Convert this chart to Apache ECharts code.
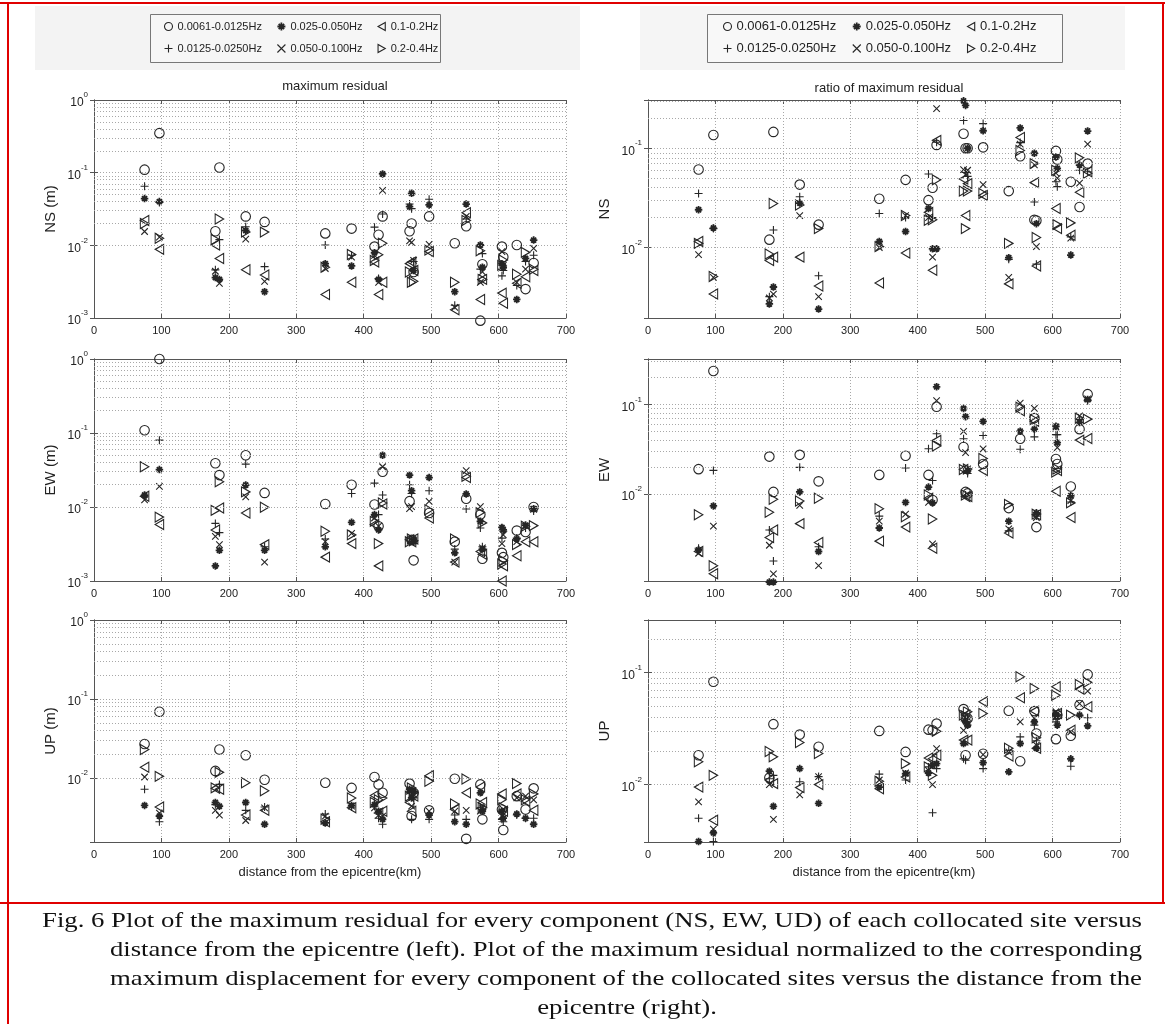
<!DOCTYPE html>
<html><head><meta charset="utf-8">
<script src="https://cdn.jsdelivr.net/npm/echarts@6/dist/echarts.min.js"></script>
<style>html,body{margin:0;padding:0;background:#fff}#c{width:1165px;height:1024px}</style>
</head><body><div id="c"></div>
<script>
// ---------------- DATA ----------------
const distance = [75, 97, 180, 186, 225, 253, 343, 382, 416, 422, 428, 468, 471, 474, 497, 535, 552, 573, 576, 605, 607, 627, 640, 652];
const bandNames = ['0.0061-0.0125Hz', '0.0125-0.0250Hz', '0.025-0.050Hz', '0.050-0.100Hz', '0.1-0.2Hz', '0.2-0.4Hz'];
const xTicks = [0, 100, 200, 300, 400, 500, 600, 700];

// maximum residual, NS (m)
const resNS_o    = [0.11, 0.35, 0.0156, 0.118, 0.025, 0.021, 0.0146, 0.017, 0.0096, 0.014, 0.025, 0.0156, 0.02, 0.0043, 0.025, 0.0107, 0.0183, 0.00092, 0.0055, 0.0096, 0.0069, 0.0101, 0.0025, 0.0057];
const resNS_plus = [0.065, 0.039, 0.0046, 0.012, 0.018, 0.0051, 0.0101, 0.0073, 0.0178, 0.0035, 0.027, 0.037, 0.032, 0.006, 0.043, 0.0015, 0.023, 0.0047, 0.0077, 0.0038, 0.0045, 0.0028, 0.006, 0.0073];
const resNS_star = [0.044, 0.04, 0.0036, 0.0034, 0.016, 0.0023, 0.0056, 0.0052, 0.0079, 0.0034, 0.096, 0.034, 0.052, 0.0045, 0.036, 0.0023, 0.037, 0.0101, 0.005, 0.0056, 0.005, 0.0018, 0.0066, 0.0118];
const resNS_x    = [0.0155, 0.013, 0.0044, 0.003, 0.0122, 0.0032, 0.0048, 0.0069, 0.0073, 0.0031, 0.057, 0.0115, 0.011, 0.0062, 0.0103, 0.0014, 0.025, 0.0031, 0.0043, 0.0082, 0.0053, 0.0031, 0.0047, 0.0091];
const resNS_lt   = [0.022, 0.0088, 0.0101, 0.0066, 0.0046, 0.0039, 0.0021, 0.0031, 0.0059, 0.0021, 0.0031, 0.0056, 0.0059, 0.0045, 0.0082, 0.0013, 0.028, 0.0018, 0.0034, 0.0022, 0.0016, 0.003, 0.0037, 0.0045];
const resNS_rt   = [0.02, 0.0125, 0.012, 0.023, 0.0153, 0.0152, 0.005, 0.0075, 0.0062, 0.0074, 0.0107, 0.0043, 0.0031, 0.0032, 0.0086, 0.0031, 0.022, 0.0084, 0.0034, 0.0053, 0.0063, 0.004, 0.008, 0.0047];

// maximum residual, EW (m)
const resEW_o    = [0.109, 1.0, 0.039, 0.027, 0.05, 0.0155, 0.011, 0.02, 0.0108, 0.0055, 0.03, 0.012, 0.0036, 0.0019, 0.0083, 0.0034, 0.0129, 0.0079, 0.002, 0.0024, 0.0021, 0.0048, 0.0046, 0.01];
const resEW_plus = [0.014, 0.08, 0.006, 0.0045, 0.038, 0.0029, 0.0037, 0.0152, 0.021, 0.0079, 0.0145, 0.02, 0.0152, 0.0034, 0.0166, 0.0027, 0.0094, 0.0052, 0.0029, 0.0038, 0.0047, 0.0038, 0.0052, 0.0088];
const resEW_star = [0.0145, 0.032, 0.0016, 0.0026, 0.0198, 0.0026, 0.0029, 0.0062, 0.0079, 0.0049, 0.05, 0.027, 0.0166, 0.0034, 0.025, 0.0024, 0.015, 0.0064, 0.0027, 0.0053, 0.0049, 0.0037, 0.0057, 0.0095];
const resEW_x    = [0.0125, 0.019, 0.004, 0.0031, 0.0137, 0.0018, 0.0034, 0.0044, 0.0071, 0.0055, 0.035, 0.0095, 0.0101, 0.0035, 0.0119, 0.0018, 0.031, 0.0101, 0.0028, 0.0032, 0.0042, 0.0034, 0.0055, 0.0093];
const resEW_lt   = [0.014, 0.0058, 0.0049, 0.0097, 0.0083, 0.0031, 0.0021, 0.0032, 0.0058, 0.0016, 0.011, 0.0036, 0.0034, 0.0037, 0.0071, 0.0018, 0.025, 0.0025, 0.0023, 0.001, 0.0016, 0.0022, 0.0034, 0.0034];
const resEW_rt   = [0.035, 0.0073, 0.009, 0.022, 0.016, 0.0099, 0.0047, 0.0042, 0.0064, 0.0032, 0.0113, 0.0034, 0.0037, 0.0035, 0.0092, 0.0037, 0.026, 0.0084, 0.0061, 0.0017, 0.0019, 0.0031, 0.0055, 0.0056];

// maximum residual, UP (m)
const resUP_o    = [0.027, 0.069, 0.0123, 0.023, 0.0194, 0.0095, 0.0087, 0.0075, 0.0103, 0.0083, 0.0065, 0.0085, 0.0033, 0.0065, 0.0039, 0.0098, 0.0017, 0.0083, 0.003, 0.004, 0.0022, 0.0059, 0.004, 0.0074];
const resUP_plus = [0.0072, 0.0028, 0.0046, 0.0083, 0.0039, 0.0043, 0.0035, 0.0043, 0.0044, 0.0031, 0.0026, 0.0065, 0.003, 0.0056, 0.003, 0.0034, 0.003, 0.0042, 0.004, 0.003, 0.0028, 0.0034, 0.0031, 0.0031];
const resUP_star = [0.0045, 0.0033, 0.0049, 0.0044, 0.0049, 0.0026, 0.0027, 0.0045, 0.0046, 0.0038, 0.003, 0.0072, 0.0056, 0.0068, 0.0034, 0.0028, 0.0026, 0.0065, 0.0038, 0.0038, 0.0031, 0.0035, 0.0031, 0.0026];
const resUP_x    = [0.0103, 0.0036, 0.0039, 0.0034, 0.0029, 0.0042, 0.0033, 0.0044, 0.0042, 0.0034, 0.0033, 0.0068, 0.0044, 0.0062, 0.0038, 0.0038, 0.0039, 0.0038, 0.0042, 0.0033, 0.004, 0.0056, 0.0059, 0.0053];
const resUP_lt   = [0.0137, 0.0043, 0.0074, 0.0072, 0.0034, 0.0039, 0.0028, 0.0042, 0.006, 0.0036, 0.0038, 0.0049, 0.0038, 0.0059, 0.0107, 0.004, 0.0065, 0.0077, 0.0049, 0.0063, 0.0038, 0.0063, 0.0051, 0.0039];
const resUP_rt   = [0.023, 0.0105, 0.0075, 0.0118, 0.0087, 0.0069, 0.003, 0.0056, 0.0049, 0.0053, 0.0056, 0.0059, 0.0075, 0.0065, 0.0091, 0.0047, 0.0097, 0.0047, 0.0042, 0.0053, 0.0042, 0.0085, 0.0053, 0.0063];

// ratio of maximum residual, NS
const ratNS_o    = [0.061, 0.136, 0.012, 0.146, 0.043, 0.017, 0.031, 0.048, 0.03, 0.04, 0.108, 0.14, 0.1, 0.1, 0.102, 0.037, 0.083, 0.019, 0.0187, 0.094, 0.077, 0.046, 0.0256, 0.07];
const ratNS_plus = [0.035, 0.0155, 0.0032, 0.015, 0.0325, 0.0052, 0.022, 0.02, 0.055, 0.02, 0.115, 0.19, 0.057, 0.052, 0.177, 0.0076, 0.114, 0.0287, 0.0068, 0.046, 0.041, 0.0128, 0.06, 0.058];
const ratNS_star = [0.024, 0.0157, 0.0027, 0.004, 0.028, 0.0024, 0.0115, 0.0145, 0.0247, 0.0097, 0.0097, 0.3, 0.27, 0.1, 0.15, 0.0079, 0.16, 0.089, 0.0174, 0.0816, 0.0626, 0.0084, 0.0676, 0.149];
const ratNS_x    = [0.0085, 0.005, 0.0031, 0.0034, 0.021, 0.0032, 0.01, 0.021, 0.02, 0.008, 0.25, 0.061, 0.054, 0.06, 0.043, 0.005, 0.11, 0.068, 0.0102, 0.056, 0.05, 0.0124, 0.0446, 0.11];
const ratNS_lt   = [0.0115, 0.0034, 0.0074, 0.008, 0.008, 0.0041, 0.0044, 0.0088, 0.0226, 0.0059, 0.12, 0.049, 0.021, 0.044, 0.0335, 0.0043, 0.128, 0.045, 0.0065, 0.0247, 0.0155, 0.0133, 0.036, 0.058];
const ratNS_rt   = [0.011, 0.0051, 0.0086, 0.0277, 0.0268, 0.0155, 0.0102, 0.021, 0.0188, 0.019, 0.048, 0.037, 0.0155, 0.037, 0.035, 0.011, 0.095, 0.07, 0.0126, 0.06, 0.017, 0.0177, 0.08, 0.056];

// ratio of maximum residual, EW
const ratEW_o    = [0.019, 0.235, 0.0262, 0.0106, 0.0274, 0.0139, 0.0164, 0.0268, 0.0164, 0.0086, 0.094, 0.0335, 0.0106, 0.0102, 0.0217, 0.007, 0.0414, 0.0703, 0.0043, 0.0246, 0.0217, 0.0122, 0.053, 0.13];
const ratEW_plus = [0.0025, 0.0184, 0.004, 0.0018, 0.0199, 0.0026, 0.0057, 0.0196, 0.032, 0.0142, 0.047, 0.0415, 0.0098, 0.017, 0.045, 0.0039, 0.0316, 0.0435, 0.0057, 0.046, 0.046, 0.0082, 0.068, 0.11];
const ratEW_star = [0.0024, 0.0074, 0.00105, 0.00105, 0.0106, 0.0023, 0.0042, 0.0081, 0.012, 0.008, 0.157, 0.09, 0.073, 0.0183, 0.0646, 0.005, 0.0503, 0.053, 0.0062, 0.057, 0.0375, 0.0096, 0.063, 0.113];
const ratEW_x    = [0.0022, 0.0044, 0.0027, 0.0013, 0.0075, 0.0016, 0.005, 0.006, 0.0081, 0.0028, 0.11, 0.05, 0.029, 0.0191, 0.032, 0.0041, 0.103, 0.09, 0.0055, 0.056, 0.033, 0.0085, 0.0745, 0.115];
const ratEW_lt   = [0.0023, 0.0013, 0.0033, 0.004, 0.0047, 0.0029, 0.003, 0.0043, 0.009, 0.0025, 0.0397, 0.0188, 0.0094, 0.0094, 0.0183, 0.0037, 0.085, 0.065, 0.0059, 0.0108, 0.0183, 0.0055, 0.04, 0.0417];
const ratEW_rt   = [0.0059, 0.0016, 0.0063, 0.0088, 0.0084, 0.009, 0.0069, 0.0056, 0.0098, 0.0053, 0.0344, 0.0188, 0.0098, 0.0191, 0.025, 0.0077, 0.093, 0.068, 0.006, 0.0176, 0.0191, 0.008, 0.07, 0.0685];

// ratio of maximum residual, UP
const ratUP_o    = [0.0183, 0.083, 0.0115, 0.0347, 0.028, 0.0218, 0.0302, 0.0196, 0.031, 0.0306, 0.0351, 0.0473, 0.0183, 0.039, 0.0189, 0.0457, 0.0162, 0.0454, 0.0286, 0.0255, 0.0418, 0.0273, 0.0514, 0.0966];
const ratUP_plus = [0.005, 0.0031, 0.0113, 0.0121, 0.0106, 0.0118, 0.0124, 0.011, 0.0144, 0.0056, 0.0139, 0.017, 0.0165, 0.04, 0.0139, 0.0203, 0.0267, 0.034, 0.0247, 0.0364, 0.039, 0.0146, 0.041, 0.0396];
const ratUP_star = [0.0031, 0.0037, 0.0132, 0.0064, 0.0139, 0.0068, 0.0095, 0.0125, 0.0127, 0.0149, 0.0154, 0.0233, 0.0364, 0.034, 0.0157, 0.013, 0.0233, 0.0364, 0.0211, 0.0418, 0.034, 0.017, 0.0418, 0.0335];
const ratUP_x    = [0.007, 0.004, 0.01, 0.0049, 0.0081, 0.0118, 0.011, 0.0127, 0.0134, 0.01, 0.021, 0.0306, 0.038, 0.035, 0.0185, 0.0196, 0.0364, 0.039, 0.0225, 0.0448, 0.0432, 0.0296, 0.053, 0.0685];
const ratUP_lt   = [0.0095, 0.0048, 0.011, 0.0102, 0.0094, 0.01, 0.0092, 0.0117, 0.0173, 0.017, 0.0183, 0.025, 0.042, 0.025, 0.055, 0.018, 0.0597, 0.0454, 0.0211, 0.075, 0.0432, 0.0306, 0.0714, 0.0496];
const ratUP_rt   = [0.016, 0.0121, 0.0198, 0.0177, 0.0238, 0.019, 0.0107, 0.0154, 0.0144, 0.0121, 0.03, 0.0418, 0.041, 0.0448, 0.0432, 0.0211, 0.092, 0.0724, 0.0262, 0.063, 0.0418, 0.0418, 0.0786, 0.082];

const captionLines = [
  'Fig. 6 Plot of the maximum residual for every component (NS, EW, UD) of each collocated site versus',
  'distance from the epicentre (left). Plot of the maximum residual normalized to the corresponding',
  'maximum displacement for every component of the collocated sites versus the distance from the',
  'epicentre (right).'
];

// ---------------- STYLE / LAYOUT ----------------
const SANS = '"Liberation Sans", Arial, Helvetica, sans-serif';
const SERIF = '"Liberation Serif", "Times New Roman", serif';
const INK = '#262626';
const GRIDC = '#a8a8a8';
const markerDefs = [
  { symbol: 'circle', size: 9.5, bw: 1.1 },
  { symbol: 'path://M5,0L5,10M0,5L10,5', size: 8, bw: 1.1 },
  { symbol: 'path://M5,0L5,10M0,5L10,5M1.6,1.6L8.4,8.4M8.4,1.6L1.6,8.4', size: 7.5, bw: 1.8 },
  { symbol: 'path://M0,0L10,10M10,0L0,10', size: 6.5, bw: 1.1 },
  { symbol: 'path://M0,5L9,0L9,10Z', size: [8.5, 10], bw: 1.1 },
  { symbol: 'path://M9,5L0,0L0,10Z', size: [8.5, 10], bw: 1.1 }
];

const LX = 94, RX = 648, PW = 472;
const rows = [{ top: 100, h: 218 }, { top: 359, h: 222 }, { top: 620, h: 222 }];
const panels = [
  { left: LX, row: 0, ymin: 0.001, ymax: 1, yname: 'NS (m)', vals: [resNS_o, resNS_plus, resNS_star, resNS_x, resNS_lt, resNS_rt] },
  { left: LX, row: 1, ymin: 0.001, ymax: 1, yname: 'EW (m)', vals: [resEW_o, resEW_plus, resEW_star, resEW_x, resEW_lt, resEW_rt] },
  { left: LX, row: 2, ymin: 0.00155, ymax: 1, yname: 'UP (m)', vals: [resUP_o, resUP_plus, resUP_star, resUP_x, resUP_lt, resUP_rt], xname: 'distance from the epicentre(km)' },
  { left: RX, row: 0, ymin: 0.00195, ymax: 0.306, yname: 'NS', vals: [ratNS_o, ratNS_plus, ratNS_star, ratNS_x, ratNS_lt, ratNS_rt] },
  { left: RX, row: 1, ymin: 0.00108, ymax: 0.32, yname: 'EW', vals: [ratEW_o, ratEW_plus, ratEW_star, ratEW_x, ratEW_lt, ratEW_rt] },
  { left: RX, row: 2, ymin: 0.00307, ymax: 0.296, yname: 'UP', vals: [ratUP_o, ratUP_plus, ratUP_star, ratUP_x, ratUP_lt, ratUP_rt], xname: 'distance from the epicentre(km)' }
];

function minorLines(min, max) {
  const out = [];
  for (let e = -4; e <= 0; e++) for (let m = 2; m <= 9; m++) {
    const v = m * Math.pow(10, e);
    if (v > min * 1.0001 && v < max * 0.9999) out.push({ yAxis: v });
  }
  return out;
}
function logLabel(v) {
  const e = Math.log10(v), r = Math.round(e);
  if (Math.abs(e - r) > 1e-6) return '';
  return '{b|10}{s|' + r + '}';
}

const grid = [], xAxis = [], yAxis = [], series = [];
panels.forEach((p, i) => {
  const r = rows[p.row];
  grid.push({ left: p.left, top: r.top, width: PW, height: r.h, show: false, containLabel: false });
  const axLine = { show: true, lineStyle: { color: '#555', width: 1 } };
  xAxis.push({
    type: 'value', gridIndex: i, min: 0, max: 700, interval: 100, position: 'bottom',
    axisLine: axLine, axisTick: { show: true, inside: true, length: 4, lineStyle: { color: '#555' } },
    axisLabel: { show: true, color: '#222', fontSize: 11, fontFamily: SANS, margin: 7 },
    splitLine: { show: true, lineStyle: { color: GRIDC, type: [1, 2], width: 1 } },
    name: p.xname || '', nameLocation: 'middle', nameGap: 24,
    nameTextStyle: { color: '#222', fontSize: 13, fontFamily: SANS }
  });
  xAxis.push({
    type: 'value', gridIndex: i, min: 0, max: 700, interval: 100, position: 'top',
    axisLine: axLine, axisTick: { show: true, inside: true, length: 4, lineStyle: { color: '#555' } },
    axisLabel: { show: false }, splitLine: { show: false }
  });
  yAxis.push({
    type: 'log', logBase: 10, gridIndex: i, min: p.ymin, max: p.ymax, position: 'left',
    axisLine: axLine, axisTick: { show: true, inside: true, length: 4, lineStyle: { color: '#555' } },
    axisLabel: {
      show: true, formatter: logLabel, margin: 6,
      rich: {
        b: { fontSize: 12, color: '#222', fontFamily: SANS, lineHeight: 18, verticalAlign: 'bottom' },
        s: { fontSize: 8, color: '#222', fontFamily: SANS, lineHeight: 6, verticalAlign: 'top' }
      }
    },
    splitLine: { show: true, lineStyle: { color: GRIDC, type: [1, 2], width: 1 } },
    name: p.yname, nameLocation: 'middle', nameGap: 36, nameRotate: 90,
    nameTextStyle: { color: '#222', fontSize: 15, fontFamily: SANS }
  });
  yAxis.push({
    type: 'log', logBase: 10, gridIndex: i, min: p.ymin, max: p.ymax, position: 'right',
    axisLine: axLine, axisTick: { show: true, inside: true, length: 4, lineStyle: { color: '#555' } },
    axisLabel: { show: false }, splitLine: { show: false }
  });
  p.vals.forEach((arr, k) => {
    const m = markerDefs[k];
    const s = {
      type: 'scatter', name: bandNames[k], xAxisIndex: 2 * i, yAxisIndex: 2 * i,
      symbol: m.symbol, symbolSize: m.size, clip: false,
      itemStyle: { color: 'none', borderColor: INK, borderWidth: m.bw, opacity: 1 },
      emphasis: { disabled: true },
      data: distance.map((d, j) => [d, arr[j]]),
      z: 3, animation: false
    };
    if (k === 0) {
      s.markLine = {
        silent: true, symbol: ['none', 'none'], label: { show: false }, animation: false,
        lineStyle: { color: GRIDC, type: [1, 2], width: 1 },
        emphasis: { disabled: true },
        data: minorLines(p.ymin, p.ymax)
      };
    }
    series.push(s);
  });
});

function legendData(idxs) {
  return idxs.map(k => ({
    name: bandNames[k], icon: markerDefs[k].symbol,
    itemStyle: { color: 'none', borderColor: INK, borderWidth: markerDefs[k].bw }
  }));
}
function legend(left, top, idxs, fs, gap) {
  return {
    left: left, top: top, orient: 'horizontal', itemWidth: 8, itemHeight: 8, itemGap: gap,
    selectedMode: false, data: legendData(idxs), z: 10,
    textStyle: { color: '#222', fontSize: fs, fontFamily: SANS }
  };
}

// caption scaling (layout only)
const mctx = document.createElement('canvas').getContext('2d');
const CAPFS = 22;
mctx.font = CAPFS + 'px "Liberation Serif"';
function fitScale(t, w) { return w / mctx.measureText(t).width; }
const capS1 = fitScale(captionLines[0], 1100);
const capS2 = fitScale(captionLines[1], 1032);
const capS3 = fitScale(captionLines[2], 1032);
const capY = [921, 950, 979, 1008];

const redLine = (x, y, w, h) => ({ type: 'rect', shape: { x: x, y: y, width: w, height: h }, style: { fill: '#e00000' }, z: 100, silent: true });
const capText = (txt, x, y, sx, align) => ({
  type: 'text', x: x, y: y, scaleX: sx, z: 100, silent: true,
  style: { text: txt, fill: '#111', font: CAPFS + 'px ' + SERIF, textAlign: align, textVerticalAlign: 'middle' }
});

const option = {
  backgroundColor: '#ffffff',
  animation: false,
  title: [
    { text: 'maximum residual', left: LX + PW / 2, top: 75, textAlign: 'center', textStyle: { color: '#222', fontSize: 13, fontWeight: 'normal', fontFamily: SANS } },
    { text: 'ratio of maximum residual', left: RX + PW / 2, top: 77, textAlign: 'center', textStyle: { color: '#222', fontSize: 13, fontWeight: 'normal', fontFamily: SANS } }
  ],
  legend: [
    legend(157, 15, [0, 2, 4], 11, 13),
    legend(157, 37, [1, 3, 5], 11, 13),
    legend(716, 15, [0, 2, 4], 13, 14),
    legend(716, 37, [1, 3, 5], 13, 14)
  ],
  grid, xAxis, yAxis, series,
  graphic: [
    { type: 'rect', shape: { x: 35, y: 6, width: 545, height: 64 }, style: { fill: '#f3f3f3' }, z: 0, silent: true },
    { type: 'rect', shape: { x: 150.5, y: 14.5, width: 290, height: 48 }, style: { fill: '#f6f6f6', stroke: '#777', lineWidth: 1 }, z: 1, silent: true },
    { type: 'rect', shape: { x: 640, y: 6, width: 485, height: 64 }, style: { fill: '#f5f5f5' }, z: 0, silent: true },
    { type: 'rect', shape: { x: 707.5, y: 14.5, width: 355, height: 48 }, style: { fill: '#f8f8f8', stroke: '#777', lineWidth: 1 }, z: 1, silent: true },
    redLine(0, 2, 1165, 2),
    redLine(7, 2, 2, 1022),
    redLine(1162, 2, 2, 902),
    redLine(0, 902, 1165, 2),
    capText(captionLines[0], 42, capY[0], capS1, 'left'),
    capText(captionLines[1], 110, capY[1], capS2, 'left'),
    capText(captionLines[2], 110, capY[2], capS3, 'left'),
    capText(captionLines[3], 627, capY[3], capS1, 'center')
  ]
};

const chart = echarts.init(document.getElementById('c'), null, { renderer: 'canvas' });
chart.setOption(option);
</script>
</body></html>
